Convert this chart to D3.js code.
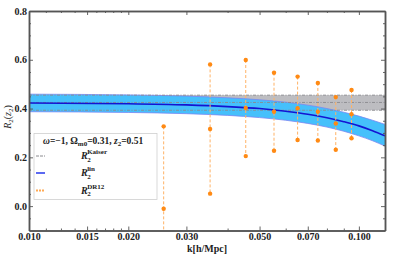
<!DOCTYPE html>
<html>
<head>
<meta charset="utf-8">
<script src="https://cdn.jsdelivr.net/npm/d3@7"></script>
<style>
  body { margin: 0; background: #fff; }
  svg text { font-family: "Liberation Serif", "DejaVu Serif", serif; }
</style>
</head>
<body>
<div id="chart"></div>
<script>
var svgWidth = 415;
var svgHeight = 258;

// axis ticks
var kTicks = [0.010, 0.015, 0.020, 0.030, 0.050, 0.070, 0.100];
var kMinor = [0.01125, 0.0125, 0.01375, 0.016, 0.017, 0.018, 0.019, 0.04, 0.06, 0.08, 0.09];
var yTicks = [0.0, 0.2, 0.4, 0.6, 0.8];
var yMinor = [-0.05, 0.05, 0.1, 0.15, 0.25, 0.3, 0.35, 0.45, 0.5, 0.55, 0.65, 0.7, 0.75];

// Kaiser band (constant in k)
var kaiserLow = 0.393;
var kaiserMid = 0.425;
var kaiserHigh = 0.455;

// linear theory curve with its band
var linK    = [0.010, 0.020, 0.030, 0.040, 0.050, 0.060, 0.070, 0.080, 0.090, 0.100, 0.110, 0.120];
var linMid  = [0.423, 0.420, 0.415, 0.408, 0.400, 0.389, 0.377, 0.362, 0.346, 0.329, 0.309, 0.288];
var linHigh = [0.459, 0.456, 0.451, 0.444, 0.436, 0.426, 0.414, 0.400, 0.385, 0.369, 0.352, 0.335];
var linLow  = [0.387, 0.384, 0.379, 0.372, 0.363, 0.352, 0.339, 0.324, 0.307, 0.288, 0.268, 0.246];

// DR12 measurements
var dr12K   = [0.0256, 0.0354, 0.0454, 0.0553, 0.0652, 0.0751, 0.0851, 0.0950];
var dr12Mid = [-0.011, 0.316, 0.402, 0.387, 0.401, 0.387, 0.339, 0.377];
var dr12Err = [0.338, 0.265, 0.197, 0.160, 0.130, 0.118, 0.108, 0.099];

var margin = { top: 11, right: 30, bottom: 27.5, left: 29 };
var x0 = margin.left, x1 = svgWidth - margin.right;
var y0 = svgHeight - margin.bottom, y1 = margin.top;

var svg = d3.select("#chart").append("svg")
  .attr("width", svgWidth)
  .attr("height", svgHeight);

var xScale = d3.scaleLog().domain([0.01, 0.12]).range([x0, x1]);
var yScale = d3.scaleLinear().domain([-0.1, 0.8]).range([y0, y1]);

svg.append("clipPath").attr("id", "plotclip")
  .append("rect")
  .attr("x", x0).attr("y", y1)
  .attr("width", x1 - x0).attr("height", y0 - y1);

var plot = svg.append("g").attr("clip-path", "url(#plotclip)");

// Kaiser band
plot.append("rect")
  .attr("x", x0).attr("width", x1 - x0)
  .attr("y", yScale(kaiserHigh))
  .attr("height", yScale(kaiserLow) - yScale(kaiserHigh))
  .attr("fill", "#bdbdc1");

// linear band
var linData = linK.map(function(k, i) {
  return { k: k, mid: linMid[i], lo: linLow[i], hi: linHigh[i] };
});

plot.append("path")
  .datum(linData)
  .attr("fill", "#45c0fb")
  .attr("d", d3.area()
    .x(function(d) { return xScale(d.k); })
    .y0(function(d) { return yScale(d.lo); })
    .y1(function(d) { return yScale(d.hi); })
    .curve(d3.curveMonotoneX));

["lo", "hi"].forEach(function(key) {
  plot.append("path")
    .datum(linData)
    .attr("fill", "none")
    .attr("stroke", "#7b86f2")
    .attr("stroke-width", 0.8)
    .attr("d", d3.line()
      .x(function(d) { return xScale(d.k); })
      .y(function(d) { return yScale(d[key]); })
      .curve(d3.curveMonotoneX));
});

// Kaiser dashed lines
[kaiserLow, kaiserMid, kaiserHigh].forEach(function(v) {
  plot.append("line")
    .attr("x1", x0).attr("x2", x1)
    .attr("y1", yScale(v)).attr("y2", yScale(v))
    .attr("stroke", "#8a8a8e")
    .attr("stroke-width", 0.9)
    .attr("stroke-dasharray", "3,1.5,1,1.5");
});

// linear mid curve
plot.append("path")
  .datum(linData)
  .attr("fill", "none")
  .attr("stroke", "#1414d2")
  .attr("stroke-width", 1.6)
  .attr("d", d3.line()
    .x(function(d) { return xScale(d.k); })
    .y(function(d) { return yScale(d.mid); })
    .curve(d3.curveMonotoneX));

// DR12 points with error bars
var dr12 = dr12K.map(function(k, i) {
  return { k: k, mid: dr12Mid[i], err: dr12Err[i] };
});

var pts = plot.append("g").selectAll("g").data(dr12).enter().append("g");

pts.append("line")
  .attr("x1", function(d) { return xScale(d.k); })
  .attr("x2", function(d) { return xScale(d.k); })
  .attr("y1", function(d) { return yScale(d.mid + d.err); })
  .attr("y2", function(d) { return yScale(d.mid - d.err); })
  .attr("stroke", "#ffb266")
  .attr("stroke-width", 1)
  .attr("stroke-dasharray", "3,2");

[-1, 0, 1].forEach(function(s) {
  pts.append("circle")
    .attr("cx", function(d) { return xScale(d.k); })
    .attr("cy", function(d) { return yScale(d.mid + s * d.err); })
    .attr("r", 2.2)
    .attr("fill", "#ff8a14");
});

// axes (ticks pointing inward)
function styleAxis(g) {
  g.selectAll("path.domain").attr("stroke", "#555").attr("stroke-width", 1.5);
  g.selectAll(".tick line").attr("stroke", "#555").attr("stroke-width", 0.9);
  g.selectAll("text")
    .attr("font-family", "Liberation Serif, serif")
    .attr("font-weight", "bold")
    .attr("font-size", "10px")
    .attr("fill", "#222");
}

svg.append("g")
  .attr("transform", "translate(0," + y0 + ")")
  .call(d3.axisBottom(xScale).tickValues(kTicks).tickFormat(d3.format(".3f"))
    .tickSizeInner(-4).tickSizeOuter(0).tickPadding(2))
  .call(styleAxis);
svg.append("g")
  .attr("transform", "translate(0," + y0 + ")")
  .call(d3.axisBottom(xScale).tickValues(kMinor).tickFormat("")
    .tickSizeInner(-2).tickSizeOuter(0))
  .call(styleAxis);
svg.append("g")
  .attr("transform", "translate(0," + y1 + ")")
  .call(d3.axisTop(xScale).tickValues(kTicks).tickFormat("")
    .tickSizeInner(-4).tickSizeOuter(0))
  .call(styleAxis);
svg.append("g")
  .attr("transform", "translate(0," + y1 + ")")
  .call(d3.axisTop(xScale).tickValues(kMinor).tickFormat("")
    .tickSizeInner(-2).tickSizeOuter(0))
  .call(styleAxis);

svg.append("g")
  .attr("transform", "translate(" + x0 + ",0)")
  .call(d3.axisLeft(yScale).tickValues(yTicks).tickFormat(d3.format(".1f"))
    .tickSizeInner(-4).tickSizeOuter(0).tickPadding(2))
  .call(styleAxis);
svg.append("g")
  .attr("transform", "translate(" + x0 + ",0)")
  .call(d3.axisLeft(yScale).tickValues(yMinor).tickFormat("")
    .tickSizeInner(-2).tickSizeOuter(0))
  .call(styleAxis);
svg.append("g")
  .attr("transform", "translate(" + x1 + ",0)")
  .call(d3.axisRight(yScale).tickValues(yTicks).tickFormat("")
    .tickSizeInner(-4).tickSizeOuter(0))
  .call(styleAxis);
svg.append("g")
  .attr("transform", "translate(" + x1 + ",0)")
  .call(d3.axisRight(yScale).tickValues(yMinor).tickFormat("")
    .tickSizeInner(-2).tickSizeOuter(0))
  .call(styleAxis);

// axis titles
svg.append("text")
  .attr("x", (x0 + x1) / 2)
  .attr("y", 252)
  .attr("text-anchor", "middle")
  .attr("font-weight", "bold")
  .attr("font-size", "10px")
  .attr("fill", "#222")
  .text("k[h/Mpc]");

var ylab = svg.append("text")
  .attr("transform", "translate(11,117) rotate(-90)")
  .attr("text-anchor", "middle")
  .attr("font-size", "10px")
  .attr("fill", "#222");
ylab.append("tspan").attr("font-style", "italic").text("R");
ylab.append("tspan").attr("font-size", "7px").attr("dy", 2).text("2");
ylab.append("tspan").attr("dy", -2).text("(");
ylab.append("tspan").attr("font-style", "italic").text("z");
ylab.append("tspan").attr("font-size", "7px").attr("dy", 2).text("2");
ylab.append("tspan").attr("dy", -2).text(")");

// legend
var legend = svg.append("g");
legend.append("rect")
  .attr("x", 34).attr("y", 133.5)
  .attr("width", 123).attr("height", 66)
  .attr("fill", "#fff")
  .attr("stroke", "#cfcfcf")
  .attr("stroke-width", 0.8);

var title = legend.append("text")
  .attr("x", 43).attr("y", 144)
  .attr("font-weight", "bold")
  .attr("font-size", "9.5px")
  .attr("fill", "#222");
title.append("tspan").attr("font-style", "italic").text("\u03c9");
title.append("tspan").text("=\u22121, \u03a9");
title.append("tspan").attr("font-size", "7px").attr("dy", 2).text("m0");
title.append("tspan").attr("dy", -2).text("=0.31, ");
title.append("tspan").attr("font-style", "italic").text("z");
title.append("tspan").attr("font-size", "7px").attr("dy", 2).text("2");
title.append("tspan").attr("dy", -2).text("=0.51");

var legendItems = [
  { sup: "Kaiser", y: 157, stroke: "#8a8a8e", width: 1, dash: "3,1" },
  { sup: "lin", y: 174, stroke: "#3344ee", width: 1.6, dash: null },
  { sup: "DR12", y: 191.5, stroke: "#ffaa55", width: 2, dash: "2,1" }
];

legendItems.forEach(function(it) {
  legend.append("line")
    .attr("x1", 36).attr("x2", 45)
    .attr("y1", it.y - 1).attr("y2", it.y - 1)
    .attr("stroke", it.stroke)
    .attr("stroke-width", it.width)
    .attr("stroke-dasharray", it.dash);
  var t = legend.append("text")
    .attr("x", 81).attr("y", it.y + 2)
    .attr("font-weight", "bold")
    .attr("font-size", "10px")
    .attr("fill", "#222");
  t.append("tspan").attr("font-style", "italic").text("R");
  t.append("tspan").attr("font-size", "7px").attr("dy", 2.5).attr("dx", -0.5).text("2");
  t.append("tspan").attr("font-size", "7px").attr("dy", -7.5).attr("dx", -3.5).text(it.sup);
});
</script>
</body>
</html>
